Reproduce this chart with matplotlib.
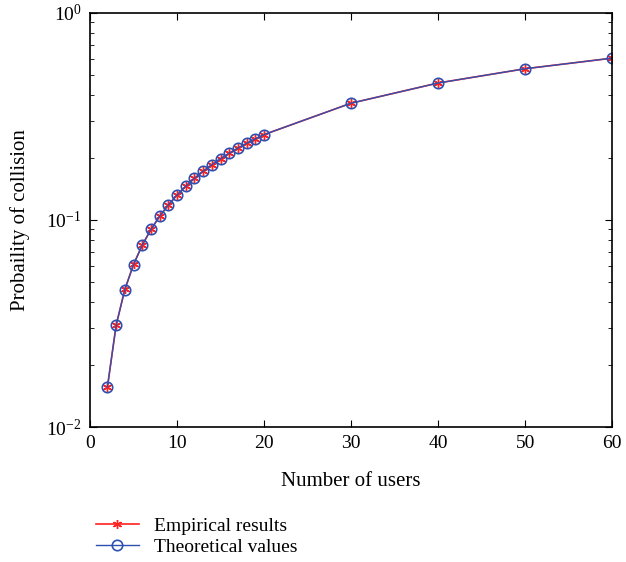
import matplotlib.pyplot as plt

users = [2, 3, 4, 5, 6, 7, 8, 9, 10, 11, 12, 13, 14, 15, 16, 17, 18, 19, 20, 30, 40, 50, 60]
empirical = [0.0156, 0.0310, 0.0462, 0.0610, 0.0756, 0.0900, 0.1042, 0.1182, 0.1320,
             0.1455, 0.1589, 0.1720, 0.1850, 0.1977, 0.2102, 0.2226, 0.2347, 0.2467,
             0.2585, 0.3666, 0.4589, 0.5378, 0.6050]
theoretical = [0.0156, 0.0310, 0.0461, 0.0609, 0.0756, 0.0900, 0.1042, 0.1182, 0.1320,
               0.1455, 0.1589, 0.1720, 0.1850, 0.1977, 0.2102, 0.2226, 0.2347, 0.2467,
               0.2585, 0.3666, 0.4589, 0.5378, 0.6050]

plt.rcParams['font.family'] = ['Liberation Serif', 'DejaVu Serif']
plt.rcParams['mathtext.fontset'] = 'stix'

fig = plt.figure(figsize=(6.26, 5.62), dpi=100)
ax = fig.add_axes([0.1438, 0.2402, 0.834, 0.7367])

l1, = ax.semilogy(users, empirical, color='#ff2020', lw=1.2, marker=(6, 2, 0),
                  ms=6.5, mew=1.0, label='Empirical results')
l2, = ax.semilogy(users, theoretical, color='#3050b0', lw=1.0, marker='o',
                  ms=7.5, mfc='none', mew=1.2, label='Theoretical values')

ax.set_xlim(0, 60)
ax.set_ylim(1e-2, 1)
ax.set_xticks([0, 10, 20, 30, 40, 50, 60])
ax.tick_params(which='both', direction='in', top=True, right=True, labelsize=14, pad=6)
ax.tick_params(which='major', length=5)
ax.tick_params(which='minor', length=3)
ax.set_xlabel('Number of users', fontsize=15, labelpad=14)
ax.set_ylabel('Probaility of collision', fontsize=15, labelpad=12)
for s in ax.spines.values():
    s.set_linewidth(1.2)

fig.legend(handles=[l1, l2], loc='upper left', bbox_to_anchor=(0.125, 0.11),
           frameon=False, fontsize=14, handlelength=2.2, labelspacing=0.15,
           handletextpad=0.8)

fig.savefig('out.png', dpi=100)
